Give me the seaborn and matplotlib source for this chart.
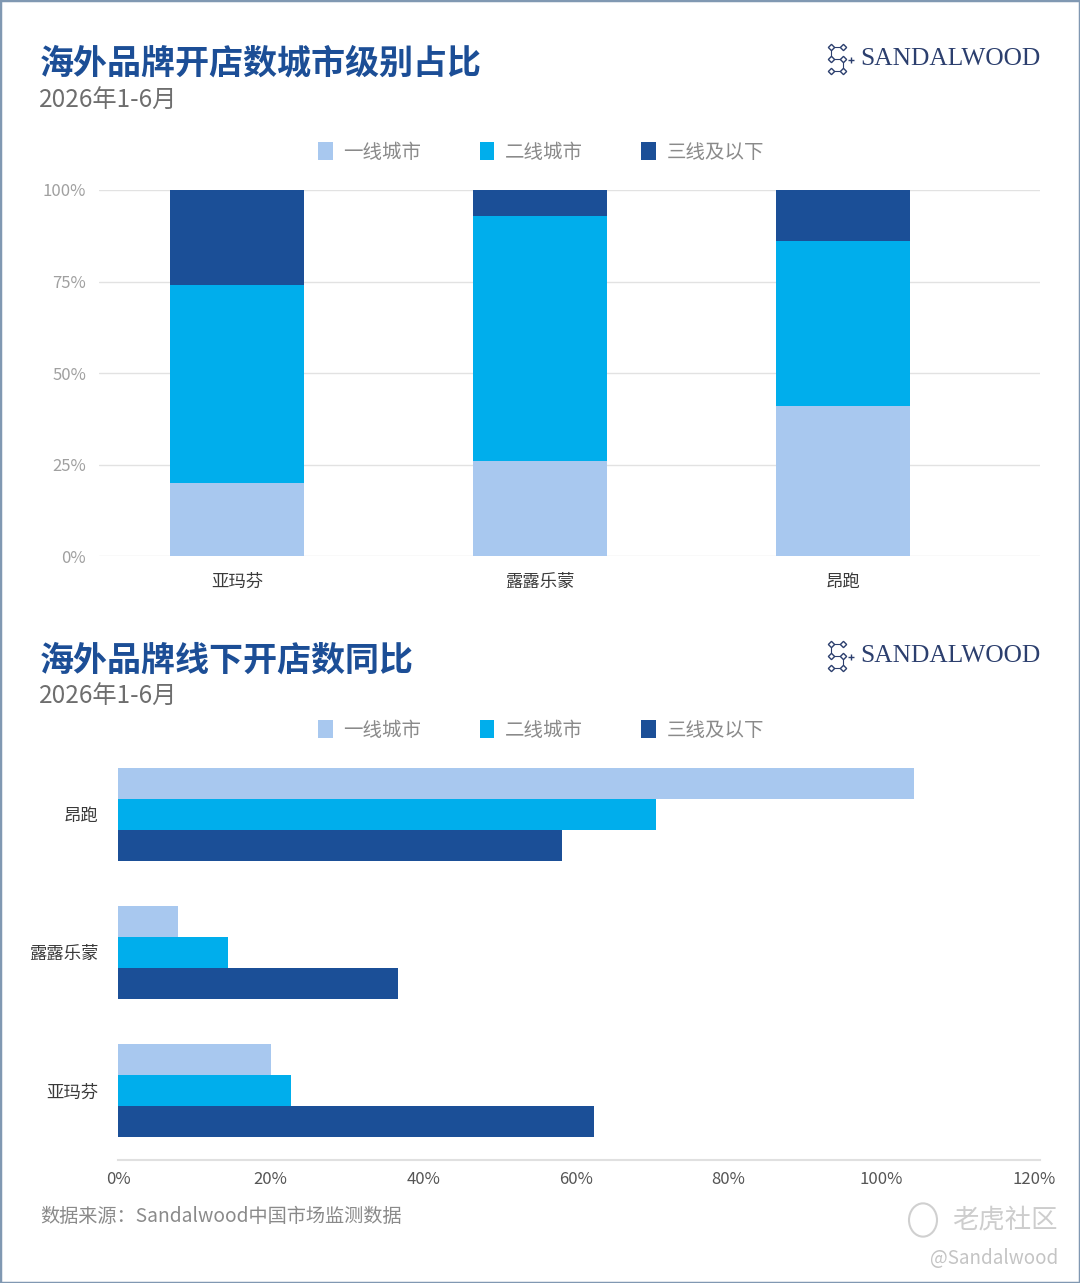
import numpy as np
import pandas as pd
import matplotlib
matplotlib.use("Agg")
import matplotlib.pyplot as plt
from matplotlib.patches import Patch, Rectangle, Circle
from matplotlib.lines import Line2D
import seaborn as sns

# data
brands_top = ['亚玛芬', '露露乐蒙', '昂跑']
tiers = ['一线城市', '二线城市', '三线及以下']
share_tier1 = [20, 26, 41]
share_tier2 = [54, 67, 45]
share_tier3 = [26, 7, 14]

brands_bottom = ['昂跑', '露露乐蒙', '亚玛芬']
yoy_tier1 = [104.3, 7.9, 20.1]
yoy_tier2 = [70.5, 14.4, 22.7]
yoy_tier3 = [58.2, 36.7, 62.3]

pct_ticks_top = [0, 25, 50, 75, 100]
pct_ticks_bottom = [0, 20, 40, 60, 80, 100, 120]

colors = ['#A8C8EF', '#00AEEC', '#1B4F97']
title_color = '#1C4E96'

sns.set_theme(style='white')
plt.rcParams['font.family'] = ['Noto Sans CJK SC', 'DejaVu Sans']

W, H = 1080, 1283
fig = plt.figure(figsize=(W / 100, H / 100), dpi=100)
fig.patch.set_facecolor('white')


def px(x, y):
    return x / W, 1 - y / H


def header(y_title, y_sub, y_logo, title):
    fig.text(*px(40, y_title), title, fontsize=24.5, fontweight='bold',
             color=title_color, va='center', ha='left')
    fig.text(*px(39, y_sub), '2026年1-6月', fontsize=17.5, color='#6E6E6E',
             va='center', ha='left')
    fig.text(*px(1041, y_logo), 'SANDALWOOD', fontsize=18.3, color='#2C3F6E',
             family='Liberation Serif', va='center', ha='right')
    # small logo mark
    pts = [(843, y_logo - 12), (831, y_logo - 12), (831, y_logo), (843, y_logo),
           (843, y_logo + 12), (831, y_logo + 12)]
    xs = [px(p[0], p[1])[0] for p in pts]
    ys = [px(p[0], p[1])[1] for p in pts]
    fig.add_artist(Line2D(xs, ys, color='#2C3F6E', lw=0.8, marker='D',
                          markersize=3.2, markerfacecolor='white',
                          markeredgecolor='#2C3F6E', transform=fig.transFigure))
    fig.add_artist(Line2D([px(851, y_logo)[0]], [px(851, y_logo + 1)[1]],
                          marker='+', markersize=5, color='#2C3F6E', lw=0,
                          transform=fig.transFigure))


def legend(y):
    handles = [Patch(facecolor=c, edgecolor='none') for c in colors]
    fig.legend(handles, tiers, loc='center', bbox_to_anchor=px(541, y), ncol=3,
               frameon=False, fontsize=14, labelcolor='#8A8A8A',
               handlelength=0.75, handleheight=1.1, handletextpad=0.55,
               columnspacing=3.0)


# ---------- top chart: 100% stacked ----------
header(63, 101, 59, '海外品牌开店数城市级别占比')
legend(152)

ax1 = fig.add_axes([98.5 / W, 1 - 556 / H, 941.5 / W, 366 / H])
cum1 = np.array(share_tier1)
cum2 = cum1 + np.array(share_tier2)
cum3 = cum2 + np.array(share_tier3)
for vals, c in zip([cum3, cum2, cum1], colors[::-1]):
    sns.barplot(x=brands_top, y=vals, order=brands_top, color=c, saturation=1,
                width=0.44, errorbar=None, linewidth=0, ax=ax1, zorder=3)
ax1.set_xlim(-0.457, 2.65)
ax1.set_ylim(0, 100)
ax1.set_yticks(pct_ticks_top)
ax1.set_yticklabels([f'{t}%' for t in pct_ticks_top])
ax1.yaxis.grid(True, color='#E2E2E2', lw=1, zorder=0)
ax1.set_axisbelow(True)
for s in ax1.spines.values():
    s.set_visible(False)
ax1.tick_params(axis='y', length=0, pad=9, labelsize=12, labelcolor='#A0A0A0')
ax1.tick_params(axis='x', length=0, pad=12, labelsize=12.5, labelcolor='#3A3A3A')
ax1.set_xlabel('')
ax1.set_ylabel('')

# ---------- bottom chart: grouped horizontal bars ----------
header(660, 697, 656, '海外品牌线下开店数同比')
legend(730)

df = pd.DataFrame({
    'brand': brands_bottom * 3,
    'tier': [tiers[0]] * 3 + [tiers[1]] * 3 + [tiers[2]] * 3,
    'value': yoy_tier1 + yoy_tier2 + yoy_tier3,
})

ax2 = fig.add_axes([118 / W, 1 - 1160 / H, 922 / W, 415 / H])
sns.barplot(data=df, y='brand', x='value', hue='tier', order=brands_bottom,
            hue_order=tiers, palette=colors, saturation=1, width=0.67,
            errorbar=None, linewidth=0, orient='h', legend=False, ax=ax2)
ax2.set_xlim(0, 120.8)
ax2.set_ylim(2.5, -0.5)
ax2.set_xticks(pct_ticks_bottom)
ax2.set_xticklabels([f'{t}%' for t in pct_ticks_bottom])
for s in ['top', 'right', 'left']:
    ax2.spines[s].set_visible(False)
ax2.spines['bottom'].set_color('#E0E0E0')
ax2.spines['bottom'].set_linewidth(1.5)
ax2.tick_params(axis='x', length=0, pad=8, labelsize=12, labelcolor='#555555')
ax2.tick_params(axis='y', length=0, pad=14, labelsize=12.5, labelcolor='#3A3A3A')
ax2.set_xlabel('')
ax2.set_ylabel('')

# ---------- footer ----------
fig.text(*px(40, 1217), '数据来源：Sandalwood中国市场监测数据', fontsize=13.8,
         color='#8A8A8A', va='center', ha='left')
fig.text(*px(1058, 1220), '老虎社区', fontsize=19, color='#CDCDCD',
         va='center', ha='right')
fig.add_artist(Circle(px(923, 1220), 14 / W, transform=fig.transFigure,
                      fill=False, edgecolor='#D0D0D0', lw=1.5))
fig.text(*px(1058, 1258), '@Sandalwood', fontsize=13.5, color='#C4C4C4',
         va='center', ha='right')

# thin frame around the card
fig.add_artist(Rectangle((0, 0), 1, 1, transform=fig.transFigure, fill=False,
                         edgecolor='#8098B2', lw=2.5))

fig.savefig('out.png', dpi=100)
